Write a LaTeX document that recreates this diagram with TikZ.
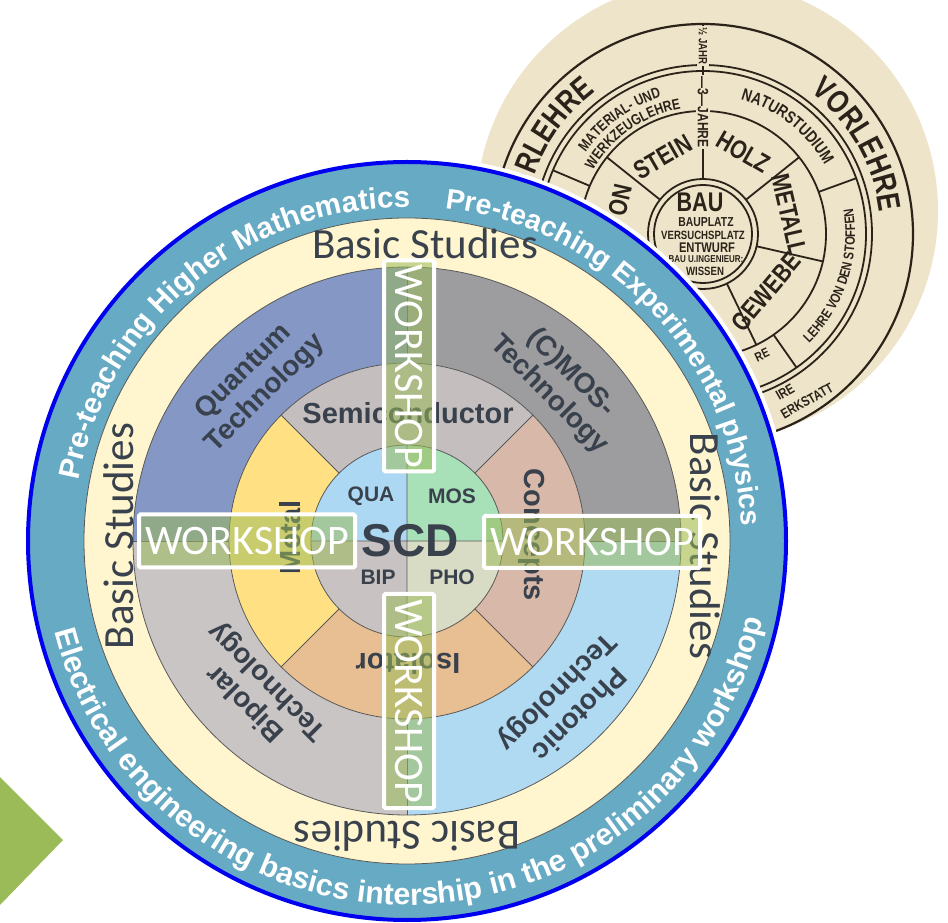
\documentclass[tikz,border=0pt]{standalone}
\usepackage{fontspec}
\setmainfont{Carlito}
\newfontfamily\headfont{Liberation Sans}
\newfontfamily\bhfont[FakeStretch=0.8]{Liberation Sans}
\usetikzlibrary{calc,decorations.text}
\definecolor{ringblue}{HTML}{67AAC3}
\definecolor{rimblue}{HTML}{0000F0}
\definecolor{basicyel}{HTML}{FFF6CF}
\definecolor{quantum}{HTML}{8497C5}
\definecolor{cmos}{HTML}{9D9D9F}
\definecolor{bipolar}{HTML}{C9C5C4}
\definecolor{photonic}{HTML}{AFDAF2}
\definecolor{semicond}{HTML}{C4BFBE}
\definecolor{concepts}{HTML}{D8B8A8}
\definecolor{isolator}{HTML}{E8BF93}
\definecolor{metal}{HTML}{FFE184}
\definecolor{qua}{HTML}{ADD8F3}
\definecolor{mos}{HTML}{A8E0B8}
\definecolor{bip}{HTML}{C8C3C2}
\definecolor{pho}{HTML}{D9DCC5}
\definecolor{inkgray}{HTML}{39414D}
\definecolor{wsgreen}{HTML}{9BBB59}
\definecolor{paper}{HTML}{EEE4C9}
\definecolor{ink}{HTML}{2B2319}
\tikzset{
  edge/.style={draw=black!65,line width=0.8pt},
  basic/.style={font=\fontsize{43}{43}\selectfont,text=inkgray,inner sep=0pt,anchor=base},
  seglbl/.style={font=\headfont\bfseries\fontsize{28}{31}\selectfont,text=inkgray,align=center,inner sep=0pt},
  midlbl/.style={font=\headfont\bfseries\fontsize{29}{29}\selectfont,text=inkgray,inner sep=0pt},
  corelbl/.style={font=\headfont\bfseries\fontsize{21}{21}\selectfont,text=inkgray,inner sep=0pt},
  wsbox/.style={draw=white,line width=4pt,fill=wsgreen,fill opacity=0.55,text opacity=1,
    text=white,font=\fontsize{42}{42}\selectfont,inner sep=0pt,rounded corners=1.5pt},
  ringtxt/.style={decorate,decoration={text along path,text align=center,text={#1}}},
  bh/.style={font=\bhfont\bfseries\fontsize{#1}{#1}\selectfont,text=ink,inner sep=0pt},
  bhline/.style={draw=ink,line width=1.8pt},
}

\begin{document}
\begin{tikzpicture}[x=1pt,y=1pt]
  \useasboundingbox (0,0) rectangle (948,922);
  \clip (0,0) rectangle (948,922);

  % arrow stub at the left margin
  \fill[wsgreen] (0,145) -- (63,82) -- (0,17) -- cycle;

  % old curriculum wheel behind
  \fill[paper] (707,711) circle (231);
  \begin{scope}[shift={(703,688)}]
    \draw[bhline,line width=2.2pt] (0,0) circle (210);
    \draw[bhline] (0,0) circle (169) (0,0) circle (163) (0,0) circle (123)
      (0,0) circle (55) (0,0) circle (49);
    \foreach \a in {38.6,-12.9,-64.3,-115.7,-167.1,141.4}
      \draw[bhline] (\a:55) -- (\a:123);
    \foreach \a in {157,20,-55,-110}
      \draw[bhline] (\a:123) -- (\a:163);
    \draw[bhline] (90:55) -- (90:210);
    \path[ringtxt={|\bhfont\bfseries\fontsize{32}{32}\selectfont\color{ink}|VORLEHRE}]
      (75:178) arc[start angle=75,end angle=-15,radius=178];
    \path[ringtxt={|\bhfont\bfseries\fontsize{32}{32}\selectfont\color{ink}|VORLEHRE}]
      (195:178) arc[start angle=195,end angle=105,radius=178];
    \path[ringtxt={|\bhfont\bfseries\fontsize{17}{17}\selectfont\color{ink}|NATURSTUDIUM}]
      (97:140) arc[start angle=97,end angle=7,radius=140];
    \path[ringtxt={|\bhfont\bfseries\fontsize{15}{15}\selectfont\color{ink}|MATERIAL- UND}]
      (171:143) arc[start angle=171,end angle=81,radius=143];
    \path[ringtxt={|\bhfont\bfseries\fontsize{15}{15}\selectfont\color{ink}|WERKZEUGLEHRE}]
      (170:127) arc[start angle=170,end angle=80,radius=127];
    \path[ringtxt={|\bhfont\bfseries\fontsize{14}{14}\selectfont\color{ink}|LEHRE VON DEN STOFFEN}]
      (-63:152) arc[start angle=-63,end angle=27,radius=152];
    \node[bh=26,rotate=30] (stein) at (-40,77) {STEIN};
    \node[bh=26,rotate=-30] (holz) at (40,82) {HOLZ};
    \node[bh=26,rotate=-77] (metall) at (86,19) {METALL};
    \node[bh=26,rotate=50] (gewebe) at (63,-58) {GEWEBE};
    \node[bh=26,rotate=77] (ton) at (-83,34) {ON};
    \node[bh=27] (bau) at (-3,32) {BAU};
    \node[bh=13] (bauplatz) at (3,12) {BAUPLATZ};
    \node[bh=12] (versuch) at (0,-1) {VERSUCHSPLATZ};
    \node[bh=14] (entwurf) at (4,-14) {ENTWURF};
    \node[bh=10] (ingwissen) at (3,-25) {BAU U.INGENIEUR:};
    \node[bh=12] (wissen) at (2,-37) {WISSEN};
    \node[bh=15,rotate=-90,fill=paper,inner sep=1.5pt] (dreijahre) at (0,122) {—3—JAHRE};
    \node[bh=12,rotate=-90,fill=paper,inner sep=1.5pt] (halbjahr) at (0,188) {½ JAHR};
    \node[bh=13,rotate=25] (rest1) at (59,-121) {RE};
    \node[bh=14,rotate=30] (rest2) at (82,-158) {IRE};
    \node[bh=14,rotate=30] (rest3) at (104,-167) {ERKSTATT};
  \end{scope}

  % SCD wheel
  \begin{scope}[shift={(407,381)}]
    \fill[white] (0,0) circle (385);
    \fill[ringblue] (0,0) circle (380);
    \draw[rimblue,line width=4pt] (0,0) circle (379);
    \fill[basicyel] (0,0) circle (323);
    \draw[edge] (0,0) circle (323);
    % technology quadrants
    \foreach \a/\c in {90/quantum,0/cmos,180/bipolar,270/photonic}
      \fill[\c] (0,0) -- (\a:274) arc[start angle=\a,end angle=\a+90,radius=274] -- cycle;
    \draw[edge] (0,0) circle (274);
    % semiconductor ring
    \foreach \a/\c in {45/semicond,-45/concepts,135/metal,225/isolator}
      \fill[\c] (0,0) -- (\a:178) arc[start angle=\a,end angle=\a+90,radius=178] -- cycle;
    \draw[edge] (0,0) circle (178);
    \foreach \a in {45,135,225,315} \draw[edge] (\a:96) -- (\a:178);
    \foreach \a in {0,90,180,270} \draw[edge] (\a:178) -- (\a:274);
    % core
    \foreach \a/\c in {90/qua,0/mos,180/bip,270/pho}
      \fill[\c] (0,0) -- (\a:96) arc[start angle=\a,end angle=\a+90,radius=96] -- cycle;
    \draw[edge] (0,0) circle (96) (0,-96) -- (0,96) (-96,0) -- (96,0);

    % outer ring captions
    \path[ringtxt={|\headfont\bfseries\fontsize{29.5}{29.5}\selectfont\color{white}|Pre-teaching Higher Mathematics}]
      (179.5:334) arc[start angle=179.5,end angle=79.5,radius=334];
    \path[ringtxt={|\headfont\bfseries\fontsize{28.5}{28.5}\selectfont\color{white}|Pre-teaching Experimental physics}]
      (93:335) arc[start angle=93,end angle=-7,radius=335];
    \path[ringtxt={|\headfont\bfseries\fontsize{30.5}{30.5}\selectfont\color{white}|Electrical engineering basics intership in the preliminary workshop}]
      (186:364) arc[start angle=186,end angle=356,radius=364];

    \node[basic] (bsTop) at (18,282) {Basic Studies};
    \node[basic,rotate=90] (bsLeft) at (-274,5) {Basic Studies};
    \node[basic,rotate=-90] (bsRight) at (283,-5) {Basic Studies};
    \node[basic,rotate=180] (bsBottom) at (0,-280) {Basic Studies};

    \node[seglbl,rotate=45] (quantl) at (-152,158) {Quantum\\Technology};
    \node[seglbl,rotate=-45] (cmosl) at (153,157) {(C)MOS-\\Technology};
    \node[seglbl,rotate=135] (bipl) at (-150,-151) {Bipolar\\Technology};
    \node[seglbl,rotate=225] (phol) at (160,-161) {Photonic\\Technology};

    \node[midlbl] (semil) at (1,128) {Semiconductor};
    \node[midlbl,rotate=-90] (concl) at (125,6) {Concepts};
    \node[midlbl,rotate=180] (isol) at (1,-123) {Isolator};
    \node[midlbl,rotate=90] (metl) at (-117,4) {Metal};

    \node[font=\headfont\bfseries\fontsize{46}{46}\selectfont,text=inkgray,inner sep=0pt] (scd) at (3,0) {SCD};
    \node[corelbl] (qual) at (-36,45) {QUA};
    \node[corelbl] (mosl) at (45,45) {MOS};
    \node[corelbl] (bipc) at (-29,-36) {BIP};
    \node[corelbl] (phoc) at (45,-36) {PHO};

    % workshop bars
    \node[wsbox,minimum width=211pt,minimum height=50pt,rotate=-90] (wsTop) at (2,175) {WORKSHOP};
    \node[wsbox,minimum width=214pt,minimum height=50pt,rotate=-90] (wsBottom) at (2,-160) {WORKSHOP};
    \node[wsbox,minimum width=216pt,minimum height=53pt] (wsLeft) at (-160,0) {WORKSHOP};
    \node[wsbox,minimum width=216pt,minimum height=52pt] (wsRight) at (185,-1) {WORKSHOP};
  \end{scope}
\end{tikzpicture}
\end{document}
